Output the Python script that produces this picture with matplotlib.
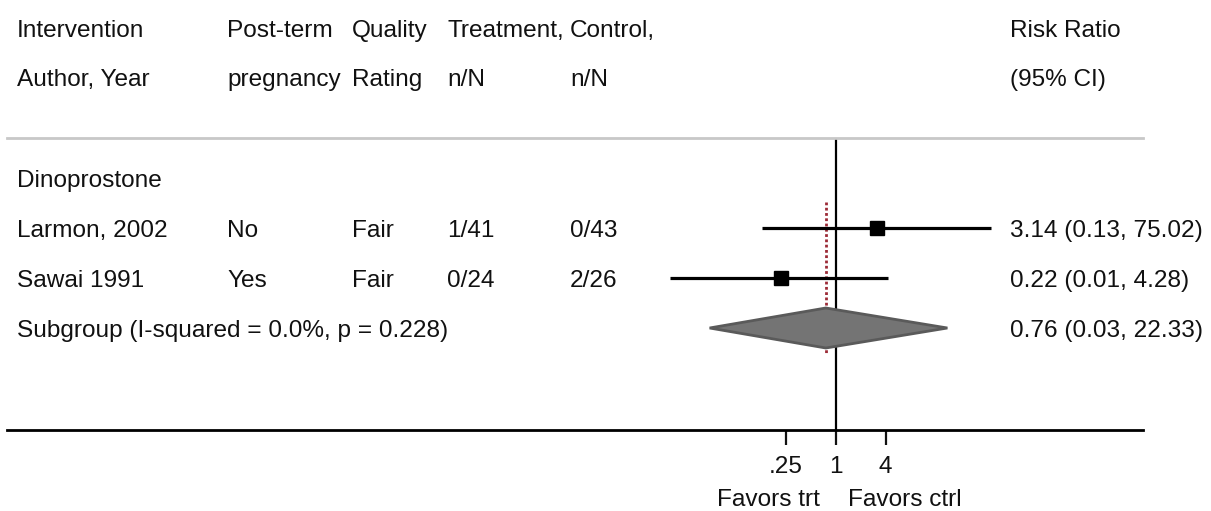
import numpy as np
import matplotlib.pyplot as plt
import matplotlib.transforms as mtransforms

plt.rcParams['font.family'] = ['Liberation Sans', 'DejaVu Sans']

# dane do wykresu
group_name = 'Dinoprostone'
studies = ['Larmon, 2002', 'Sawai 1991']
post_term = ['No', 'Yes']
quality = ['Fair', 'Fair']
trt_nN = ['1/41', '0/24']
ctrl_nN = ['0/43', '2/26']
rr = [3.14, 0.22]
rr_lo = [0.13, 0.01]
rr_hi = [75.02, 4.28]

subgroup_label = 'Subgroup (I-squared = 0.0%, p = 0.228)'
pooled_rr = 0.76
pooled_lo = 0.03
pooled_hi = 22.33

header1 = ['Intervention', 'Post-term', 'Quality', 'Treatment,', 'Control,', 'Risk Ratio']
header2 = ['Author, Year', 'pregnancy', 'Rating', 'n/N', 'n/N', '(95% CI)']
xticks = [0.25, 1, 4]
xticklabels = ['.25', '1', '4']

W, H = 1211, 511
fig = plt.figure(figsize=(W / 100, H / 100), dpi=100)
# os x: 7..1143 px, os y: 138..430 px
ax = fig.add_axes([7 / W, (H - 430) / H, (1143 - 7) / W, (430 - 138) / H])

ax.set_xscale('log')
px_per_ln = 35.96
ax.set_xlim(np.exp((7 - 835.7) / px_per_ln), np.exp((1143 - 835.7) / px_per_ln))
# wiersze co 50 px, Dinoprostone w 178 px
ax.set_ylim((430 - 178) / 50, (138 - 178) / 50)

fs = 17.6
tc = '#111111'

ax.set_xticks(xticks)
ax.set_xticklabels(xticklabels)
ax.xaxis.set_minor_locator(plt.NullLocator())
ax.tick_params(axis='x', direction='out', length=10.8, width=1.6, pad=8,
               labelsize=fs, colors=tc)
ax.set_yticks([])
for s in ['left', 'right']:
    ax.spines[s].set_visible(False)
ax.spines['bottom'].set_linewidth(2.0)
ax.spines['top'].set_color('#c8c8c8')
ax.spines['top'].set_linewidth(2.0)

ax.axvline(1, color='black', lw=1.6, zorder=1)

base = 0.17
tr = mtransforms.blended_transform_factory(fig.transFigure, ax.transData)
col_x = [17, 227, 352, 447, 570, 1010]

for k in range(len(header1)):
    ax.text(col_x[k] / W, -3.0 + base, header1[k], transform=tr, fontsize=fs,
            color=tc, va='baseline', clip_on=False)
    ax.text(col_x[k] / W, -2.02 + base, header2[k], transform=tr, fontsize=fs,
            color=tc, va='baseline', clip_on=False)

ax.text(col_x[0] / W, 0 + base, group_name, transform=tr, fontsize=fs, color=tc, va='baseline')

rows = np.arange(1, len(studies) + 1)
for i, r in enumerate(rows):
    cols = [studies[i], post_term[i], quality[i], trt_nN[i], ctrl_nN[i],
            f'{rr[i]:.2f} ({rr_lo[i]:.2f}, {rr_hi[i]:.2f})']
    for k, t in enumerate(cols):
        ax.text(col_x[k] / W, r + base, t, transform=tr, fontsize=fs, color=tc,
                va='baseline', clip_on=False)
    ax.plot([rr_lo[i], rr_hi[i]], [r, r], color='black', lw=2.3, zorder=3,
            solid_capstyle='butt')
    ax.plot(rr[i], r, marker='s', ms=10, color='black', zorder=4)

# linia podsumowania
r_sub = len(studies) + 1
ax.text(col_x[0] / W, r_sub + base, subgroup_label, transform=tr, fontsize=fs,
        color=tc, va='baseline')
ax.text(col_x[5] / W, r_sub + base, f'{pooled_rr:.2f} ({pooled_lo:.2f}, {pooled_hi:.2f})',
        transform=tr, fontsize=fs, color=tc, va='baseline', clip_on=False)

ax.plot([pooled_rr, pooled_rr], [0.48, r_sub + 0.5], color='#9c2a36', lw=2.0,
        ls=(0, (1.0, 0.9)), zorder=2)
ax.fill([pooled_lo, pooled_rr, pooled_hi, pooled_rr],
        [r_sub, r_sub - 0.4, r_sub, r_sub + 0.4],
        facecolor='#747474', edgecolor='#5a5a5a', lw=2.0, zorder=5)

# opisy pod osia
off_l = mtransforms.offset_copy(ax.transData, fig=fig, x=-16, y=0, units='dots')
off_r = mtransforms.offset_copy(ax.transData, fig=fig, x=12, y=0, units='dots')
y_fav = (497 - 178) / 50 + base
ax.text(1, y_fav, 'Favors trt', transform=off_l, ha='right', va='baseline',
        fontsize=fs, color=tc, clip_on=False)
ax.text(1, y_fav, 'Favors ctrl', transform=off_r, ha='left', va='baseline',
        fontsize=fs, color=tc, clip_on=False)

fig.savefig('out.png', dpi=100, facecolor='white')
